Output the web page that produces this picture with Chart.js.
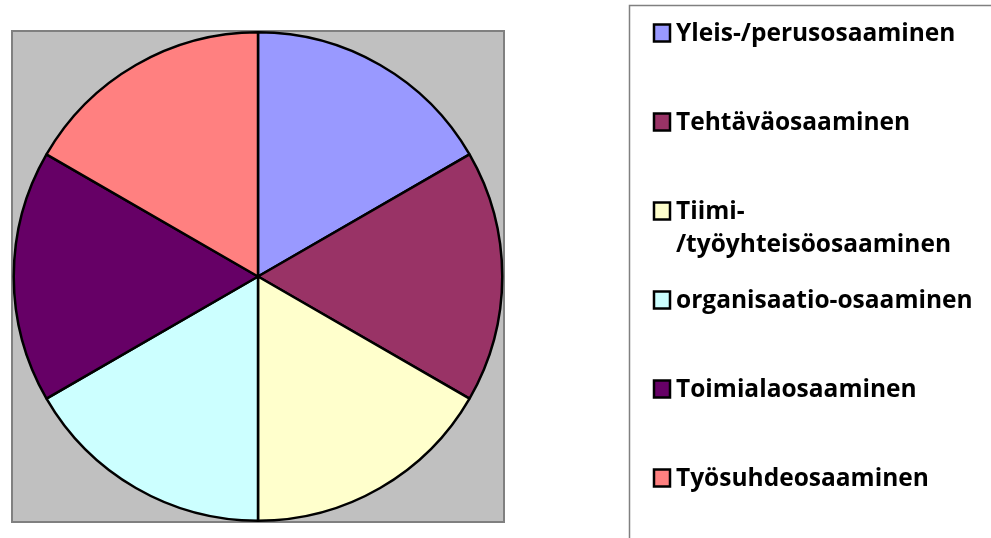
<!DOCTYPE html>
<html>
<head>
<meta charset="utf-8">
<script src="https://cdn.jsdelivr.net/npm/chart.js@4/dist/chart.umd.min.js"></script>
<style>
html,body{margin:0;padding:0;background:#fff;}
#wrap{position:relative;width:991px;height:538px;}
</style>
</head>
<body>
<div id="wrap"><canvas id="c" width="991" height="538"></canvas></div>
<script>
const categories = [
  'Yleis-/perusosaaminen',
  'Tehtäväosaaminen',
  ['Tiimi-', '/työyhteisöosaaminen'],
  'organisaatio-osaaminen',
  'Toimialaosaaminen',
  'Työsuhdeosaaminen'
];
const values = [1, 1, 1, 1, 1, 1];
const colors = ['#9999FF', '#993366', '#FFFFCC', '#CCFFFF', '#660066', '#FF8080'];

const plotBg = {
  id: 'plotBg',
  beforeDraw(chart) {
    const ctx = chart.ctx, a = chart.chartArea;
    ctx.save();
    ctx.fillStyle = '#C0C0C0';
    ctx.fillRect(a.left, a.top, a.right - a.left, a.bottom - a.top);
    ctx.strokeStyle = '#808080';
    ctx.lineWidth = 2;
    ctx.strokeRect(a.left, a.top, a.right - a.left, a.bottom - a.top);
    ctx.restore();
  }
};

const customLegend = {
  id: 'customLegend',
  afterDraw(chart) {
    const ctx = chart.ctx;
    ctx.save();
    ctx.strokeStyle = '#808080';
    ctx.lineWidth = 1.5;
    ctx.beginPath();
    ctx.moveTo(629.5, 538);
    ctx.lineTo(629.5, 5.5);
    ctx.lineTo(991, 5.5);
    ctx.stroke();
    ctx.font = 'bold 24.5px "Open Sans", sans-serif';
    ctx.textBaseline = 'middle';
    const labels = chart.data.labels;
    const bg = chart.data.datasets[0].backgroundColor;
    labels.forEach((lab, i) => {
      const y = 33 + i * 89;
      ctx.fillStyle = bg[i];
      ctx.fillRect(654, y - 8.5, 16, 17);
      ctx.strokeStyle = '#000';
      ctx.lineWidth = 2.5;
      ctx.strokeRect(654, y - 8.5, 16, 17);
      ctx.fillStyle = '#000';
      const lines = Array.isArray(lab) ? lab : [lab];
      lines.forEach((t, j) => ctx.fillText(t, 676, y + 1 + j * 33));
    });
    ctx.restore();
  }
};

new Chart(document.getElementById('c'), {
  type: 'pie',
  data: {
    labels: categories,
    datasets: [{
      data: values,
      backgroundColor: colors,
      borderColor: '#000',
      borderWidth: 2.5
    }]
  },
  options: {
    responsive: false,
    animation: false,
    layout: { padding: { left: 12, top: 31, right: 487, bottom: 16 } },
    plugins: { legend: { display: false }, tooltip: { enabled: false } }
  },
  plugins: [plotBg, customLegend]
});
</script>
</body>
</html>
